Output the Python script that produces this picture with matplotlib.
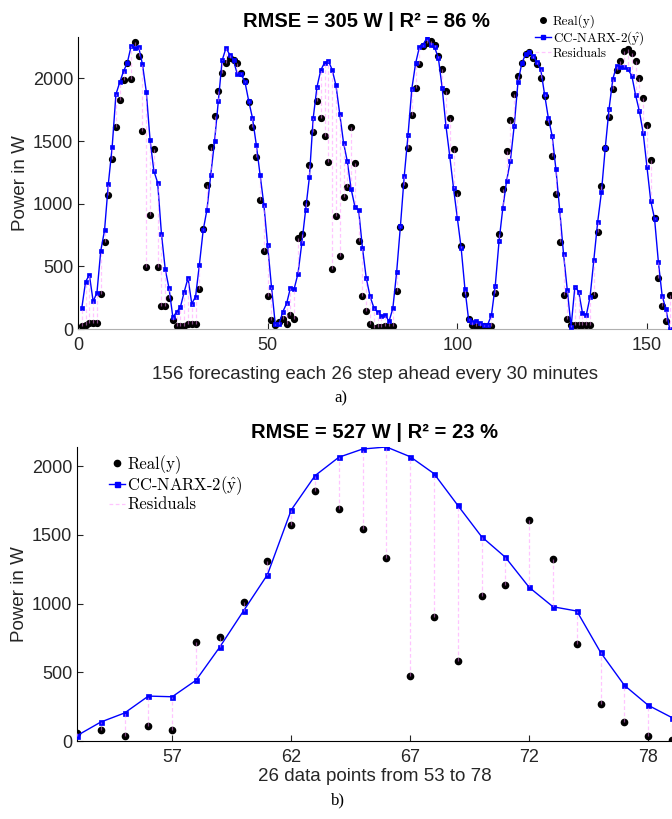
import numpy as np
import matplotlib
matplotlib.use("Agg")
import matplotlib.pyplot as plt
from matplotlib.lines import Line2D

plt.rcParams['mathtext.fontset'] = 'cm'

# valores (W), pasos 1..156
real = [26, 32, 48, 48, 48, 280, 693, 1069, 1360, 1614, 1825, 1987, 2122, 1992, 2288, 2177,
        1582, 492, 907, 1434, 492, 180, 180, 251, 74, 26, 26, 26, 37, 37, 37, 317,
        794, 1153, 1450, 1701, 1897, 2045, 2119, 2164, 2143, 2119, 2045, 1979, 1812, 1614, 1376, 1032,
        624, 267, 69, 30,
        56, 80, 39, 109, 78, 723, 757, 1009, 1312, 1572, 1820, 1686, 1541, 1332, 475, 900,
        580, 1055, 1135, 1611, 1325, 706, 267, 141, 39, 10,
        13, 13, 26, 26, 26, 307, 810, 1153, 1444, 1706, 1926, 2111, 2257, 2283, 2296, 2270,
        2182, 2071, 1899, 1680, 1437, 1085, 659, 283, 79, 34, 26, 26, 26, 26, 26, 286,
        762, 1115, 1418, 1668, 1877, 2022, 2120, 2193, 2210, 2164, 2111, 2000, 1860, 1648, 1384, 1074,
        696, 272, 79, 34, 34, 34, 34, 34, 34, 268, 775, 1143, 1444, 1690, 1913, 2063,
        2138, 2222, 2235, 2204, 2138, 2005, 1847, 1630, 1349, 889, 405, 185, 66, 270]

pred = [167, 378, 431, 220, 291, 624, 788, 1159, 1450, 1873, 1968, 2056, 2124, 2257, 2246, 2249,
        2111, 1894, 1508, 1262, 1167, 759, 476, 325, 95, 135, 175, 296, 407, 201, 259, 513,
        788, 952, 1230, 1497, 1823, 2143, 2241, 2190, 2143, 2032, 2032, 1974, 1820, 1683, 1471, 1230,
        992, 669, 339, 40,
        39, 138, 204, 327, 322, 442, 684, 948, 1210, 1681, 1931, 2065, 2125, 2140, 2069, 1946,
        1715, 1487, 1337, 1118, 977, 946, 645, 405, 260, 170,
        132, 106, 111, 61, 164, 452, 820, 1217, 1545, 1915, 2119, 2249, 2270, 2323, 2270, 2249,
        2164, 1926, 1622, 1381, 1124, 886, 650, 323, 69, 55, 60, 50, 35, 35, 110, 344,
        700, 965, 1182, 1344, 1622, 1972, 2119, 2193, 2214, 2180, 2127, 2071, 1873, 1683, 1542, 1274,
        947, 600, 312, 18, 339, 297, 127, 110, 256, 550, 852, 1094, 1444, 1755, 1995, 2100,
        2092, 2090, 2071, 2022, 1866, 1738, 1565, 1291, 1021, 881, 537, 265, 159, 0]

pasos = np.arange(1, len(real) + 1)
ini, fin = 53, 78  # ventana del panel b)
ticks_b = [57, 62, 67, 72, 77]
etiquetas_b = ['57', '62', '67', '72', '78']

titulo_a = 'RMSE = 305 W | R² = 86 %'
titulo_b = 'RMSE = 527 W | R² = 23 %'

c_res = (1.0, 0.55, 1.0, 0.5)
c_txt = '#262626'
fuente = 'Liberation Sans'


def panel(ax, x, y, yh, ms_dot, ms_sq):
    ax.vlines(x, y, yh, colors=[c_res], linestyles=(0, (3, 2)), linewidth=0.9, zorder=4)
    ax.plot(x, yh, '-s', color='#0000ff', linewidth=1.0, markersize=ms_sq,
            markeredgewidth=0.5, zorder=3)
    ax.plot(x, y, 'o', color='k', markersize=ms_dot, zorder=2)
    for s in ['top', 'right']:
        ax.spines[s].set_visible(False)
    ax.tick_params(direction='in', length=4, labelsize=13, colors=c_txt, labelcolor=c_txt)
    ax.tick_params(axis='x', pad=5.5)


def manejadores(ms_dot, ms_sq):
    return [Line2D([], [], marker='o', linestyle='none', color='k', markersize=ms_dot),
            Line2D([], [], marker='s', color='#0000ff', linewidth=1.0, markersize=ms_sq),
            Line2D([], [], color=c_res, linestyle=(0, (3, 2)), linewidth=0.9)]


nombres = ['Real(y)', r'CC-NARX-2($\hat{\mathrm{y}}$)', 'Residuals']

fig = plt.figure(figsize=(6.72, 8.19), dpi=100)

# --- panel a) ---
ax1 = fig.add_axes([78 / 672, 1 - 329 / 819, (672 - 78) / 672, (329 - 37) / 819])
panel(ax1, pasos, np.array(real), np.array(pred), 4.2, 3.4)
ax1.set_xlim(0, 156.6)
ax1.set_ylim(0, 2330)
ax1.set_xticks([0, 50, 100, 150])
ax1.set_yticks([0, 500, 1000, 1500, 2000])
for lab in ax1.get_xticklabels() + ax1.get_yticklabels():
    lab.set_fontfamily(fuente)
ax1.spines['bottom'].set_color('#b0b0b0')
ax1.set_title(titulo_a, fontsize=14.5, fontweight='bold', fontfamily=fuente, pad=7, x=0.485)
ax1.set_xlabel('156 forecasting each 26 step ahead every 30 minutes', fontsize=13.5,
               fontfamily=fuente, color=c_txt, labelpad=9)
ax1.set_ylabel('Power in W', fontsize=13.5, fontfamily=fuente, color=c_txt, labelpad=3)
ax1.legend(manejadores(4, 3.4), nombres, loc='upper left',
           bbox_to_anchor=(528 / 672, 1 - 8 / 819),
           bbox_transform=fig.transFigure, frameon=False, prop={'family': 'cmr10', 'size': 9.5},
           handlelength=1.25, handletextpad=0.15, borderpad=0, labelspacing=0.05)
fig.text(341 / 672, 1 - 398 / 819, 'a)', ha='center', va='center', fontsize=12,
         fontfamily='Liberation Serif')

# --- panel b) ---
xb = pasos[ini - 1:fin]
ax2 = fig.add_axes([77 / 672, 1 - 741 / 819, (672 - 77) / 672, (741 - 446.7) / 819])
panel(ax2, xb, np.array(real[ini - 1:fin]), np.array(pred[ini - 1:fin]), 4.5, 3.6)
ax2.set_xlim(ini, fin)
ax2.set_ylim(0, 2142)
ax2.set_xticks(ticks_b)
ax2.set_xticklabels(etiquetas_b)
ax2.set_yticks([0, 500, 1000, 1500, 2000])
for lab in ax2.get_xticklabels() + ax2.get_yticklabels():
    lab.set_fontfamily(fuente)
ax2.set_title(titulo_b, fontsize=14.5, fontweight='bold', fontfamily=fuente, pad=6)
ax2.set_xlabel('26 data points from 53 to 78', fontsize=13.5, fontfamily=fuente,
               color=c_txt, labelpad=2)
ax2.set_ylabel('Power in W', fontsize=13.5, fontfamily=fuente, color=c_txt, labelpad=3)
ax2.legend(manejadores(4.5, 3.6), nombres, loc='upper left', bbox_to_anchor=(0.04, 1.0),
           frameon=False, prop={'family': 'cmr10', 'size': 12},
           handlelength=0.95, handletextpad=0.15, borderpad=0, labelspacing=0.02)
fig.text(338 / 672, 1 - 800 / 819, 'b)', ha='center', va='center', fontsize=12,
         fontfamily='Liberation Serif')

fig.savefig('out.png', dpi=100)
